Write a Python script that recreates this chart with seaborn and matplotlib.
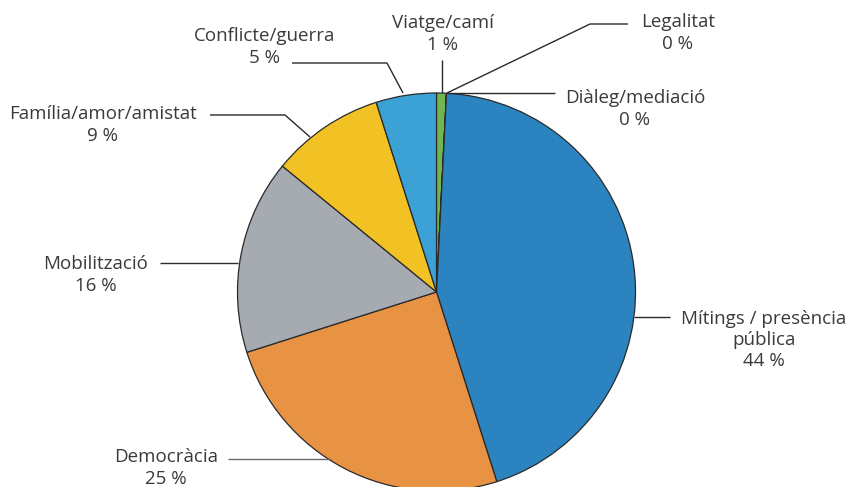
import matplotlib.pyplot as plt
import seaborn as sns

sns.set_theme(style="white")
plt.rcParams['font.family'] = ['Open Sans', 'DejaVu Sans']

# dades (percentatges)
categories = ["Viatge/camí", "Legalitat", "Diàleg/mediació", "Mítings / presència\npública",
              "Democràcia", "Mobilització", "Família/amor/amistat", "Conflicte/guerra"]
valors = [0.8, 0.0, 0.0, 44.3, 25.0, 15.8, 9.2, 4.9]
etiquetes_pct = ["1 %", "0 %", "0 %", "44 %", "25 %", "16 %", "9 %", "5 %"]
colors = ["#72b653", "#72b653", "#72b653", "#2b83c0", "#e89244", "#a6abb2", "#f2c224", "#3ca2d6"]

W, H = 854, 487
fig = plt.figure(figsize=(W / 100, H / 100), dpi=100)
ax = fig.add_axes([0, 0, 1, 1])
ax.set_xlim(0, W)
ax.set_ylim(0, H)
ax.set_aspect('equal')
ax.axis('off')

def py(y):
    # coordenada de pixel (des de dalt) a coordenada de l'eix
    return H - y

centre = (436.5, py(292))
radi = 199

ax.pie(valors, colors=colors, startangle=90, counterclock=False, center=centre, radius=radi,
       wedgeprops=dict(edgecolor="#2a2a2a", linewidth=0.9), frame=True)
ax.set_xlim(0, W)
ax.set_ylim(0, H)
ax.axis('off')

# posicions de les etiquetes i línies guia (pixels)
posicions = {
    "Viatge/camí": ((443, 34), [(442, 60), (442, 93)]),
    "Legalitat": ((678, 33), [(628, 24), (590, 24), (447, 93)]),
    "Diàleg/mediació": ((635, 109), [(555, 93), (447, 93)]),
    "Mítings / presència\npública": ((764, 340), [(670, 317), (634, 317)]),
    "Democràcia": ((166, 468), [(228, 459), (331, 459)]),
    "Mobilització": ((96, 275), [(160, 263), (238, 263)]),
    "Família/amor/amistat": ((103, 125), [(210, 115), (285, 115), (310, 137)]),
    "Conflicte/guerra": ((265, 47), [(292, 63), (387, 63), (403, 93)]),
}

text_color = "#3a3a3a"
for cat, pct in zip(categories, etiquetes_pct):
    (tx, ty), linia = posicions[cat]
    xs = [p[0] for p in linia]
    ys = [py(p[1]) for p in linia]
    lc = "#6a6a6a" if cat == "Democràcia" else "#2a2a2a"
    ax.plot(xs, ys, color=lc, linewidth=1.0, solid_capstyle='butt')
    ax.text(tx, py(ty), f"{cat}\n{pct}", ha='center', va='center', multialignment='center',
            fontsize=13.5, color=text_color, linespacing=1.25)

fig.savefig("out.png", dpi=100)
